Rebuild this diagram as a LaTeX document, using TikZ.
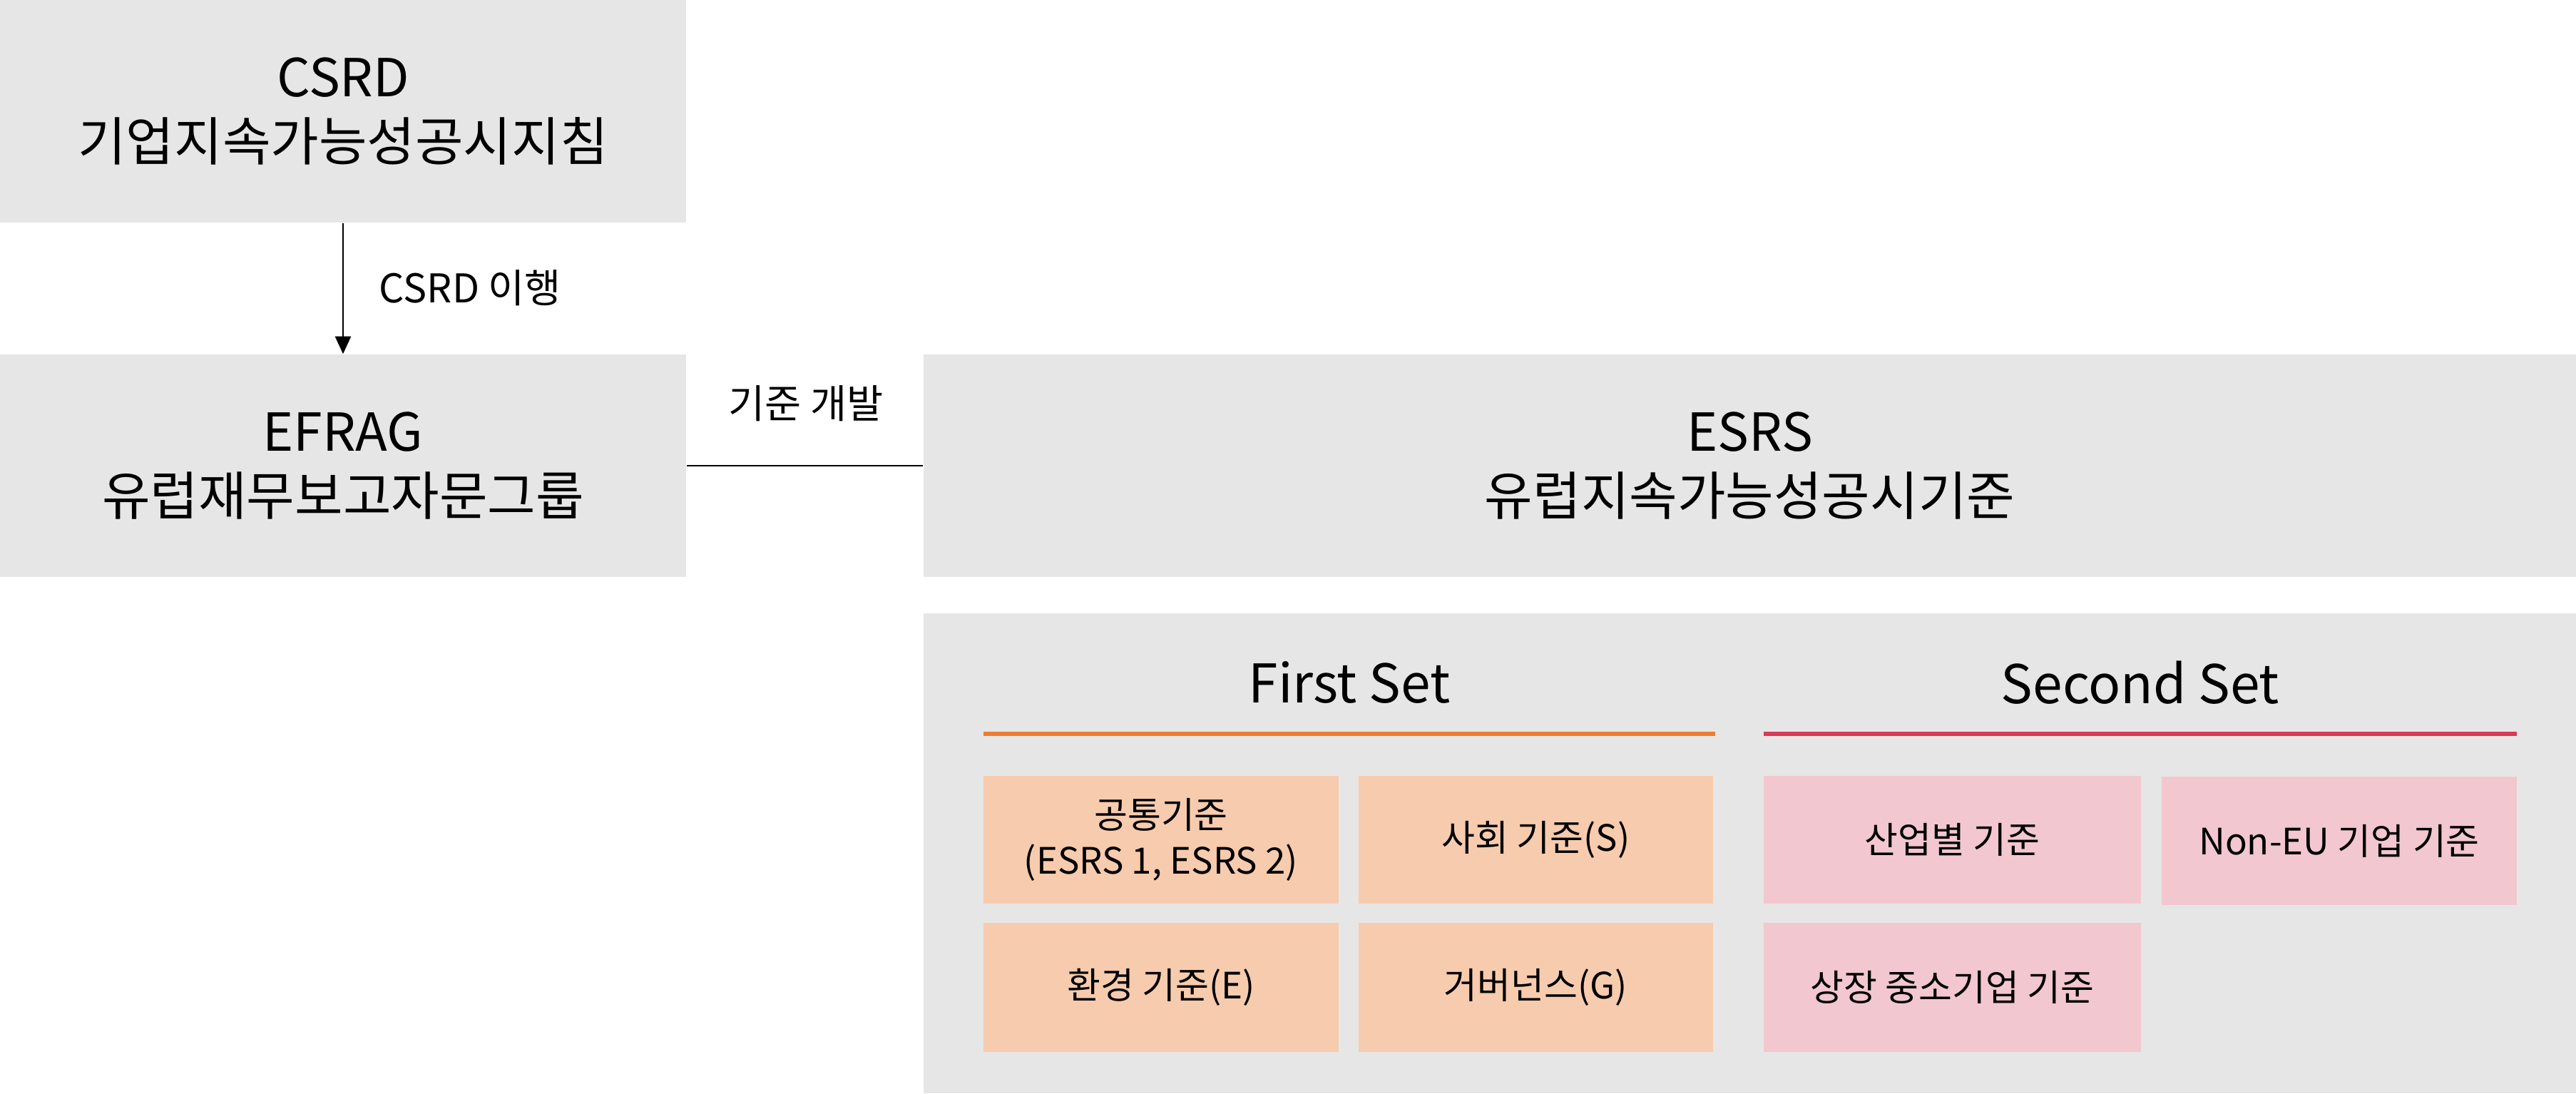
\documentclass[tikz,border=0pt]{standalone}
\usepackage{fontspec}
\setmainfont{Noto Sans CJK KR}
\usetikzlibrary{arrows.meta}
\definecolor{boxgray}{HTML}{E6E6E6}
\definecolor{orangebox}{HTML}{F7CBAD}
\definecolor{pinkbox}{HTML}{F2C7CF}
\definecolor{orangeline}{HTML}{ED7D31}
\definecolor{redline}{HTML}{D83A56}
\tikzset{
  bigbox/.style={fill=boxgray, draw=none, inner sep=0pt, align=center,
    font=\fontsize{20.9}{25.5}\selectfont},
  panel/.style={fill=boxgray, draw=none, inner sep=0pt},
  stdbox/.style={draw=none, inner sep=0pt, align=center,
    font=\fontsize{14.5}{18.4}\selectfont},
  obox/.style={stdbox, fill=orangebox},
  pbox/.style={stdbox, fill=pinkbox},
  settitle/.style={inner sep=0pt, font=\fontsize{21.3}{24}\selectfont},
  lbl/.style={inner sep=0pt, font=\fontsize{15.8}{18}\selectfont},
  conn/.style={line width=0.6pt, black},
}
\begin{document}
\begin{tikzpicture}
\useasboundingbox (0,0) rectangle (36.12,-15.33);
% top-level boxes
\node[bigbox, minimum width=9.62cm, minimum height=3.12cm] (csrd) at (4.81,-1.56) {CSRD\\기업지속가능성공시지침};
\node[bigbox, minimum width=9.62cm, minimum height=3.12cm] (efrag) at (4.81,-6.53) {EFRAG\\유럽재무보고자문그룹};
\node[bigbox, minimum width=23.17cm, minimum height=3.12cm] (esrs) at (24.535,-6.53) {ESRS\\유럽지속가능성공시기준};
% panel
\node[panel, minimum width=23.17cm, minimum height=6.73cm] (panel) at (24.535,-11.965) {};
% set titles
\node[settitle] (first) at (18.92,-9.57) {First Set};
\node[settitle] (second) at (30.01,-9.57) {Second Set};
\coordinate (ol1) at (13.79,-10.285);
\coordinate (ol2) at (24.05,-10.285);
\coordinate (rl1) at (24.73,-10.285);
\coordinate (rl2) at (35.29,-10.285);
\draw[orangeline, line width=1.7pt] (ol1) -- (ol2);
\draw[redline, line width=1.7pt] (rl1) -- (rl2);
% first set boxes
\node[obox, minimum width=4.98cm, minimum height=1.79cm] (common) at (16.28,-11.775) {공통기준\\(ESRS 1, ESRS 2)};
\node[obox, minimum width=4.97cm, minimum height=1.79cm] (social) at (21.535,-11.775) {사회 기준(S)};
\node[obox, minimum width=4.98cm, minimum height=1.81cm] (env) at (16.28,-13.845) {환경 기준(E)};
\node[obox, minimum width=4.97cm, minimum height=1.81cm] (gov) at (21.535,-13.845) {거버넌스(G)};
% second set boxes
\node[pbox, minimum width=5.29cm, minimum height=1.79cm] (sector) at (27.375,-11.775) {산업별 기준};
\node[pbox, minimum width=4.98cm, minimum height=1.80cm] (noneu) at (32.80,-11.79) {Non-EU 기업 기준};
\node[pbox, minimum width=5.29cm, minimum height=1.81cm] (sme) at (27.375,-13.845) {상장 중소기업 기준};
% connectors
\draw[conn, -{Triangle[length=7pt, width=6.3pt]}] (csrd.south) -- (efrag.north);
\node[lbl, anchor=west] (impl) at (5.31,-4.04) {CSRD 이행};
\draw[conn] (efrag.east) -- (esrs.west);
\node[lbl] (dev) at (11.30,-5.66) {기준 개발};
\end{tikzpicture}
\end{document}
